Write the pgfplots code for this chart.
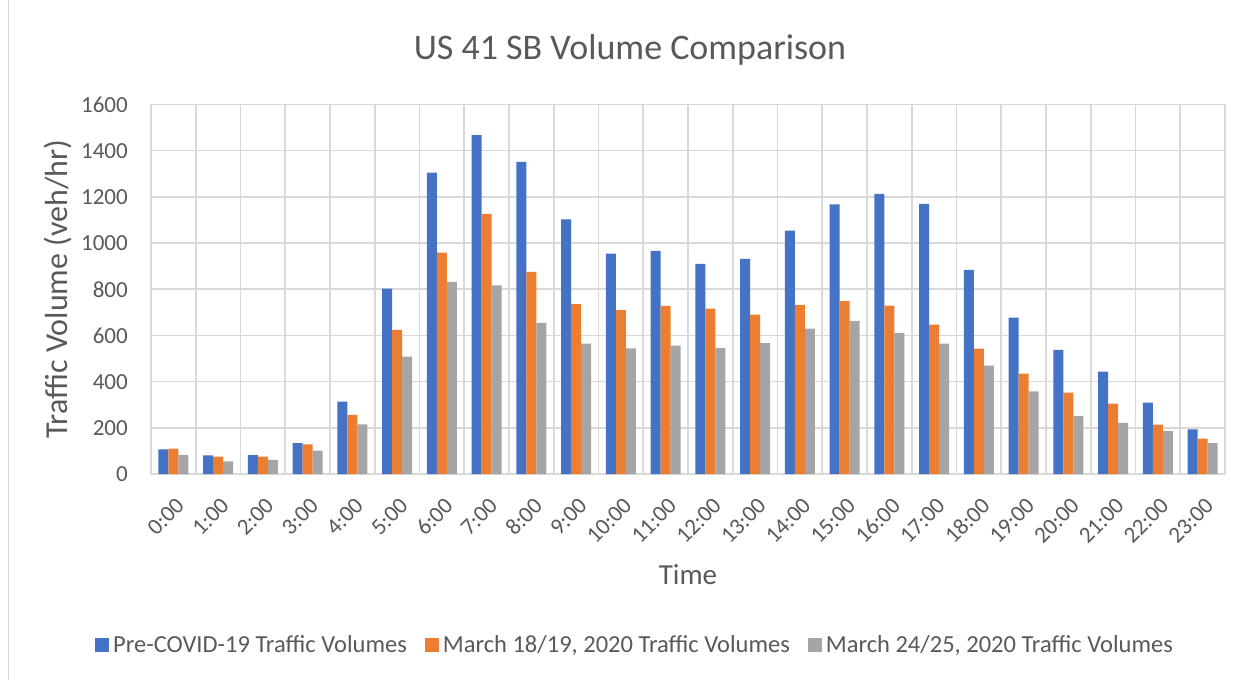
\documentclass[border=0pt]{standalone}
\usepackage{fontspec}
\setmainfont{Carlito}
\usepackage{pgfplots}
\pgfplotsset{compat=1.18}
\usepackage{pgfplotstable}
\definecolor{cblue}{HTML}{4472C4}
\definecolor{corange}{HTML}{ED7D31}
\definecolor{cgray}{HTML}{A5A5A5}
\definecolor{gridc}{HTML}{D9D9D9}
\definecolor{txt}{HTML}{595959}

\pgfplotstableread{
x pre m1819 m2425
0 107 110 82
1 81 75 55
2 82 75 61
3 134 128 101
4 313 256 215
5 803 624 508
6 1305 959 832
7 1467 1126 817
8 1352 875 654
9 1103 736 565
10 954 710 544
11 966 728 556
12 910 716 546
13 931 690 567
14 1054 732 630
15 1167 749 663
16 1213 729 611
17 1170 647 565
18 884 543 469
19 677 435 358
20 537 352 251
21 443 305 221
22 309 214 186
23 193 153 134
}\data

\begin{document}
\begin{tikzpicture}
\path (0,0) rectangle (1252pt,679pt);
\draw[gridc, line width=1pt] (8.5pt,0) -- (8.5pt,679pt);
\begin{axis}[
  at={(151pt,205.5pt)}, anchor=south west,
  scale only axis, width=1074pt, height=369.5pt,
  ybar=0pt, bar width=10pt,
  xmin=-0.5, xmax=23.5, ymin=0, ymax=1600,
  xtick={0,...,23},
  xticklabels={0:00,1:00,2:00,3:00,4:00,5:00,6:00,7:00,8:00,9:00,10:00,11:00,12:00,13:00,14:00,15:00,16:00,17:00,18:00,19:00,20:00,21:00,22:00,23:00},
  minor xtick={-0.5,0.5,...,23.5},
  ytick={0,200,...,1600},
  xminorgrids, ymajorgrids,
  major tick length=0pt, minor tick length=0pt,
  grid style={gridc, line width=1.6pt},
  minor grid style={gridc, line width=1.6pt},
  axis line style={gridc, line width=1.6pt},
  /pgf/number format/assume math mode=true,
  /pgf/number format/set thousands separator={},
  tick label style={font=\fontsize{23}{23}\selectfont, text=txt},
  yticklabel style={inner sep=0pt, xshift=-23pt},
  xticklabel style={xshift=7pt, yshift=-28pt, rotate=45, anchor=east, inner sep=0pt},
  title={US 41 SB Volume Comparison},
  title style={at={(rel axis cs:0.446,1)}, anchor=center, yshift=49pt, font=\fontsize{36}{36}\selectfont, text=txt},
  ylabel={Traffic Volume (veh/hr)},
  ylabel style={at={(rel axis cs:0,0.5)}, anchor=center, yshift=93pt, font=\fontsize{32}{32}\selectfont, text=txt},
  xlabel={Time},
  xlabel style={at={(rel axis cs:0.5,0)}, anchor=center, yshift=-101pt, font=\fontsize{29}{29}\selectfont, text=txt},
  legend columns=3,
  legend style={at={(rel axis cs:0.4507,0)}, anchor=center, yshift=-171pt, draw=none, fill=none,
    font=\fontsize{24.5}{24.5}\selectfont, text=txt,
    /tikz/every odd column/.append style={column sep=2pt},
    /tikz/every even column/.append style={column sep=16pt}},
  legend image code/.code={\fill[#1] (0pt,-7pt) rectangle (14pt,7pt);},
]
\addplot[fill=cblue, draw=none] table[x=x, y=pre] {\data};
\addplot[fill=corange, draw=none] table[x=x, y=m1819] {\data};
\addplot[fill=cgray, draw=none] table[x=x, y=m2425] {\data};
\legend{Pre-COVID-19 Traffic Volumes, {March 18/19, 2020 Traffic Volumes}, {March 24/25, 2020 Traffic Volumes}}
\end{axis}
\end{tikzpicture}
\end{document}
